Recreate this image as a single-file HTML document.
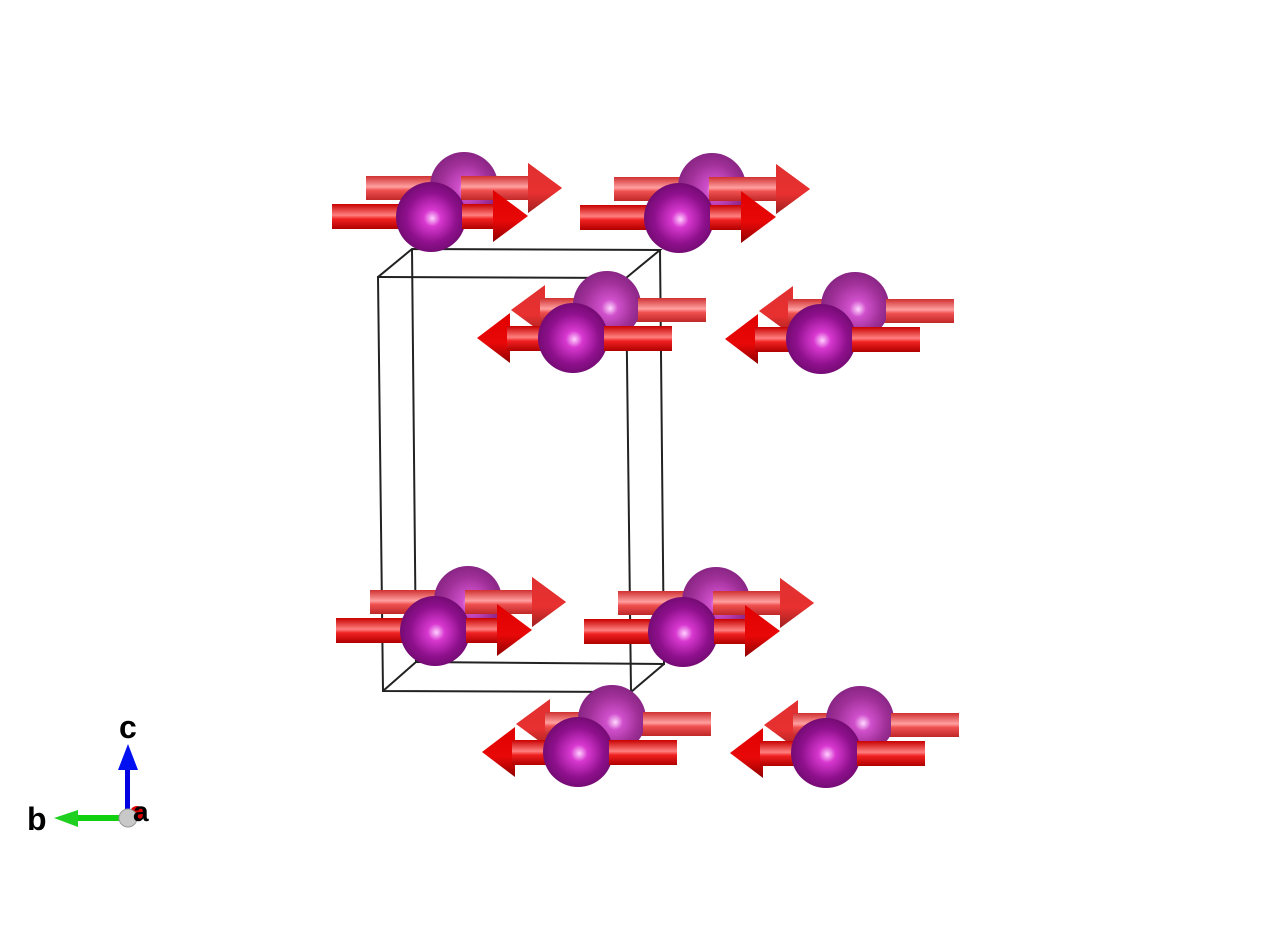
<!DOCTYPE html>
<html><head><style>body{margin:0;background:#fff}svg{display:block}</style></head><body>
<svg width="1284" height="948" viewBox="0 0 1284 948" xmlns="http://www.w3.org/2000/svg">
<defs>
<radialGradient id="af" cx="0.5" cy="0.5" r="0.6" fx="0.52" fy="0.52"><stop offset="0" stop-color="#ffd0ff"/><stop offset="0.2" stop-color="#d838d0"/><stop offset="0.6" stop-color="#8e108c"/><stop offset="1" stop-color="#640864"/></radialGradient>
<radialGradient id="ab" cx="0.5" cy="0.5" r="0.6" fx="0.55" fy="0.55"><stop offset="0" stop-color="#ffd8ff"/><stop offset="0.2" stop-color="#d050cc"/><stop offset="0.6" stop-color="#a03098"/><stop offset="1" stop-color="#7a1e78"/></radialGradient>
<linearGradient id="rf" x1="0" y1="0" x2="0" y2="1"><stop offset="0" stop-color="#c80000"/><stop offset="0.45" stop-color="#ff8080"/><stop offset="0.6" stop-color="#f02020"/><stop offset="1" stop-color="#b00000"/></linearGradient>
<linearGradient id="rb" x1="0" y1="0" x2="0" y2="1"><stop offset="0" stop-color="#d03030"/><stop offset="0.45" stop-color="#ffa0a0"/><stop offset="0.6" stop-color="#f05050"/><stop offset="1" stop-color="#c02828"/></linearGradient>
<linearGradient id="hf" x1="0" y1="0" x2="0" y2="1"><stop offset="0" stop-color="#e00000"/><stop offset="0.6" stop-color="#e80808"/><stop offset="1" stop-color="#900000"/></linearGradient>
<linearGradient id="hb" x1="0" y1="0" x2="0" y2="1"><stop offset="0" stop-color="#e03030"/><stop offset="0.6" stop-color="#e83030"/><stop offset="1" stop-color="#a02020"/></linearGradient>
<g id="R">
 <rect x="366" y="176" width="164" height="24" fill="url(#rb)"/>
 <polygon points="528,163 562,188 528,213" fill="url(#hb)"/>
 <circle cx="464" cy="186" r="34" fill="url(#ab)"/>
 <rect x="461" y="176" width="68" height="24" fill="url(#rb)"/>
 <polygon points="528,163 562,188 528,213" fill="url(#hb)"/>
 <rect x="332" y="204" width="163" height="25" fill="url(#rf)"/>
 <circle cx="431" cy="217" r="35" fill="url(#af)"/>
 <rect x="462" y="204" width="33" height="25" fill="url(#rf)"/>
 <polygon points="493,190 528,216 493,242" fill="url(#hf)"/>
</g>
<g id="L">
 <polygon points="545,285 511,310 545,335" fill="url(#hb)"/>
 <rect x="540" y="298" width="166" height="24" fill="url(#rb)"/>
 <circle cx="607" cy="305" r="34" fill="url(#ab)"/>
 <rect x="638" y="298" width="68" height="24" fill="url(#rb)"/>
 <polygon points="510,313 477,338 510,363" fill="url(#hf)"/>
 <rect x="507" y="326" width="165" height="25" fill="url(#rf)"/>
 <circle cx="573" cy="338" r="35" fill="url(#af)"/>
 <rect x="604" y="326" width="68" height="25" fill="url(#rf)"/>
</g>
</defs>
<g stroke="#222" stroke-width="2" fill="none">
<polyline points="378,277 412,249 660,250 626,278 378,277 383,691 631,692 626,278"/>
<polyline points="412,249 416,662 664,664 660,250"/>
<line x1="383" y1="691" x2="416" y2="662"/>
<line x1="631" y1="692" x2="664" y2="664"/>
</g>
<use href="#R"/>
<use href="#R" transform="translate(248,1)"/>
<use href="#L"/>
<use href="#L" transform="translate(248,1)"/>
<use href="#R" transform="translate(4,414)"/>
<use href="#R" transform="translate(252,415)"/>
<use href="#L" transform="translate(5,414)"/>
<use href="#L" transform="translate(253,415)"/>
<rect x="125" y="768" width="5" height="50" fill="#0000e0"/>
<polygon points="118,770 128,744 138,770" fill="#0010f0"/>
<rect x="75" y="815" width="52" height="6" fill="#10d010"/>
<polygon points="78,810 54,818 78,827" fill="#20d020"/>
<circle cx="137" cy="813" r="7" fill="#e00000"/>
<circle cx="128" cy="818" r="9" fill="#c8c8c8" stroke="#999" stroke-width="1"/>
<g font-family="Liberation Sans, sans-serif" font-weight="bold" font-size="32" fill="#000">
<text x="119" y="738">c</text>
<text x="27" y="830">b</text>
<text x="133" y="821" font-size="28">a</text>
</g>
</svg>
</body></html>
